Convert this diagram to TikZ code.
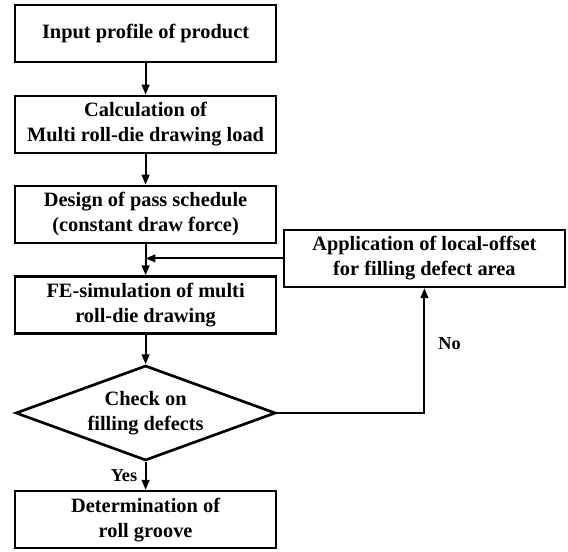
\documentclass[tikz,border=0pt]{standalone}
\usepackage{fontspec}
\setmainfont{Liberation Serif}
\usetikzlibrary{arrows.meta,shapes.geometric}

\begin{document}
\begin{tikzpicture}[
    box/.style={draw,line width=1.9pt,minimum width=6.525cm,minimum height=1.425cm,align=center,inner sep=2pt,font=\fontsize{14.5}{17.8}\selectfont\bfseries},
    flow/.style={line width=1.3pt,-{Triangle[length=7pt,width=5.5pt]}},
    lab/.style={font=\fontsize{13}{15}\selectfont\bfseries}]
    \useasboundingbox (0,0) rectangle (14.2,-13.8);
            \node (in) at (3.64,-0.84) [box] {Input profile of product};
            \node (load) at (3.64,-3.11) [box] {Calculation of\\Multi roll-die drawing load};
            \node (pass) at (3.64,-5.36) [box] {Design of pass schedule\\(constant draw force)};
            \node (fem) at (3.64,-7.625) [box] {FE-simulation of multi\\roll-die drawing};
            \node (chk) at (3.64,-10.325) [diamond,draw,line width=1.9pt,aspect=2.74,minimum width=6.5cm,minimum height=2.375cm,inner sep=0pt,align=center,font=\fontsize{14.5}{17.8}\selectfont\bfseries] {Check on\\filling defects};
            \node (grv) at (3.64,-12.99) [box] {Determination of\\roll groove};
            \node (ofs) at (10.61,-6.46) [box,minimum width=7.025cm] {Application of local-offset\\for filling defect area};
            \coordinate (join) at (ofs.west -| fem.north);

            \draw[flow] (in) -- (load);
            \draw[flow] (load) -- (pass);
            \draw[flow] (pass) -- (fem);
            \draw[flow] (fem) -- (chk);
            \draw[flow] (chk) -- (grv) node[lab,midway,left=2pt] {Yes};
            \draw[flow] (chk.east) -| (ofs.south) node[lab,pos=0.78,right=6pt] {No};
            \draw[flow] (ofs.west) -- (join);
        \end{tikzpicture}
\end{document}
